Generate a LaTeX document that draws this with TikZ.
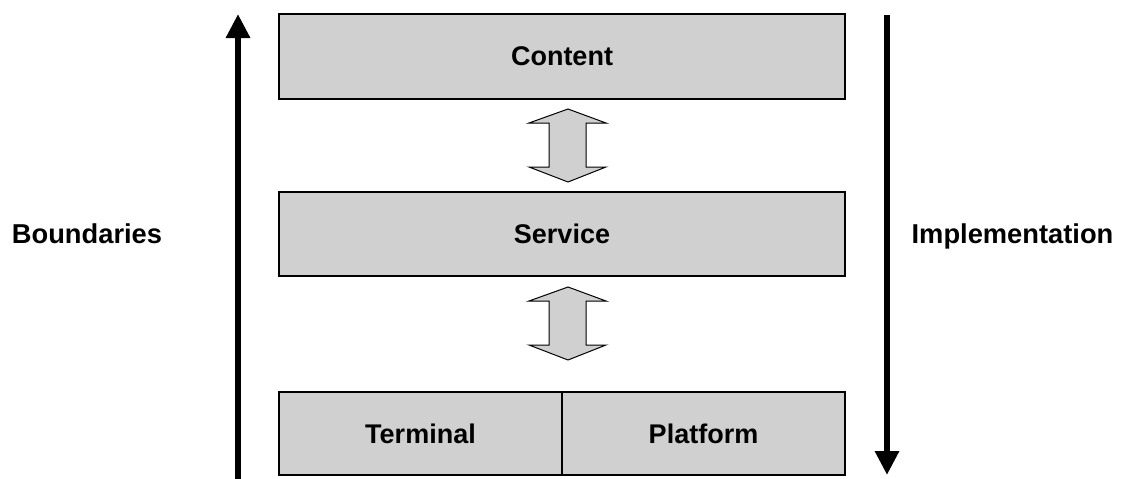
\documentclass[tikz,border=0pt]{standalone}
\usepackage{fontspec}
\setmainfont{Liberation Sans}
\usetikzlibrary{arrows.meta}
\definecolor{layergray}{RGB}{208,208,208}
\tikzset{
  layer/.style={draw=black, line width=1.5pt, fill=layergray, inner sep=0pt,
    font=\fontsize{27}{32}\selectfont\bfseries},
  sidelabel/.style={font=\fontsize{27.3}{32}\selectfont\bfseries, inner sep=0pt, anchor=base},
  bigarrow/.style={line width=6pt, -{Triangle[width=23pt,length=24pt]}},
  blockarrow/.style={draw=black, line width=1pt, fill=layergray, line join=miter},
}
% double block arrow centred on a named coordinate (image-style units, y downwards)
\newcommand{\twowayarrow}[1]{%
  \draw[blockarrow, shift={(#1)}] (0,-36.5) -- (38,-22.5) -- (18,-22.5) -- (18,21.5)
    -- (38,21.5) -- (0,36.5) -- (-39,21.5) -- (-19,21.5) -- (-19,-22.5)
    -- (-39,-22.5) -- cycle;}
\begin{document}
\begin{tikzpicture}[x=1pt, y=-1pt]
  \useasboundingbox (0,0) rectangle (1130,479);

  % layers
  \node[layer, minimum width=566pt, minimum height=85pt] (content) at (562,56.5) {Content};
  \node[layer, minimum width=566pt, minimum height=84pt] (service) at (562,234) {Service};
  \node[layer, minimum width=283pt, minimum height=83pt] (terminal) at (420.5,433.5) {Terminal};
  \node[layer, minimum width=283pt, minimum height=83pt] (platform) at (703.5,433.5) {Platform};

  % side labels
  \node[sidelabel] (boundaries) at (87,243) {Boundaries};
  \node[sidelabel] (implementation) at (1012.5,243) {Implementation};

  % long arrows at both sides
  \coordinate (bstart) at (238,479);
  \coordinate (bend) at (238,14);
  \coordinate (istart) at (887,15);
  \coordinate (iend) at (887,475);
  \draw[bigarrow] (bstart) -- (bend);
  \draw[bigarrow] (istart) -- (iend);

  % double block arrows between layers
  \coordinate (link1) at (568,145.5);
  \coordinate (link2) at (568,323.5);
  \twowayarrow{link1}
  \twowayarrow{link2}
\end{tikzpicture}
\end{document}
